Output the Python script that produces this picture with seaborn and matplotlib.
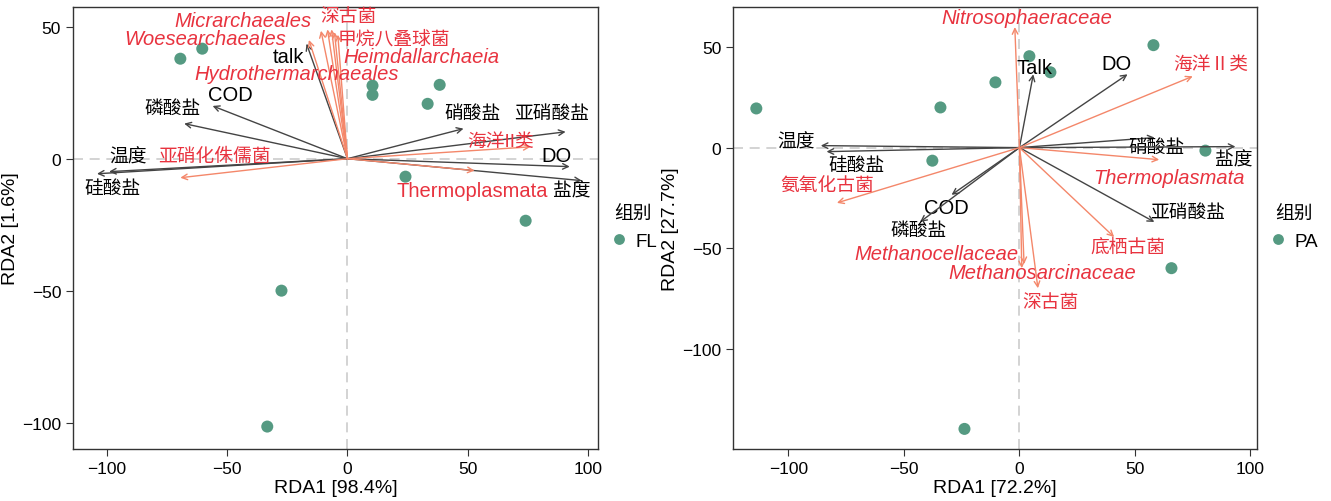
import numpy as np
import pandas as pd
import matplotlib
matplotlib.use('Agg')
import matplotlib.pyplot as plt
import seaborn as sns

sns.set_style('ticks')
plt.rcParams['font.family'] = ['Liberation Sans', 'Noto Sans CJK SC', 'DejaVu Sans']
plt.rcParams['axes.unicode_minus'] = True
plt.rcParams['text.color'] = 'black'
plt.rcParams['axes.labelcolor'] = 'black'
plt.rcParams['xtick.labelcolor'] = 'black'
plt.rcParams['ytick.labelcolor'] = 'black'

# ---- FL panel data ----
fl_x = [-69.4, -60.3, 10.4, 10.4, 38.3, 33.3, 24.1, 74.0, -27.4, -33.3]
fl_y = [37.9, 41.7, 27.7, 24.2, 28.0, 20.8, -6.8, -23.5, -50.0, -101.5]

fl_env = ['talk', 'COD', '磷酸盐', '硅酸盐', '温度', '硝酸盐', '亚硝酸盐', 'DO', '盐度']
fl_env_x = [-17.0, -56.0, -67.8, -104.0, -99.0, 48.2, 90.6, 92.3, 97.3]
fl_env_y = [43.6, 20.0, 13.3, -5.7, -4.9, 11.4, 10.2, -3.0, -8.3]

fl_sp = ['Woesearchaeales', 'Micrarchaeales', '深古菌', '甲烷八叠球菌', 'Heimdallarchaeia',
         'Hydrothermarchaeales', '亚硝化侏儒菌', '海洋II类', 'Thermoplasmata']
fl_sp_x = [-16.0, -11.0, -8.3, -6.6, -5.4, -4.0, -69.4, 76.0, 52.8]
fl_sp_y = [45.0, 48.5, 49.0, 49.0, 48.0, 47.0, -7.2, 4.5, -4.5]

# ---- PA panel data ----
pa_x = [-113.9, -34.2, -10.4, 4.3, 13.4, 58.0, 80.5, -37.7, 65.8, -23.8]
pa_y = [19.5, 20.0, 32.5, 45.5, 37.5, 51.0, -1.5, -6.5, -60.0, -140.0]

pa_env = ['Talk', 'DO', '硝酸盐', '盐度', '亚硝酸盐', '温度', '硅酸盐', 'COD', '磷酸盐']
pa_env_x = [6.0, 46.8, 58.5, 93.5, 58.4, -86.0, -83.5, -29.4, -43.0]
pa_env_y = [36.5, 36.5, 5.0, 0.5, -37.0, 1.0, -2.0, -23.5, -37.0]

pa_sp = ['Nitrosophaeraceae', '海洋Ⅱ类', 'Thermoplasmata', '氨氧化古菌', '底栖古菌',
         'Methanocellaceae', 'Methanosarcinaceae', '深古菌']
pa_sp_x = [-2.0, 75.0, 60.5, -79.0, 41.0, 1.0, 2.0, 8.0]
pa_sp_y = [60.0, 35.5, -6.0, -27.5, -44.5, -60.0, -58.0, -70.0]

# label placement (layout)
fl_env_lab = [(-24.5, 38.6), (-48.6, 24.2), (-72.8, 18.9), (-97.7, -11.4), (-91, 0.8),
              (52, 17), (84.8, 17), (87, 1.1), (93, -12.1)]
fl_sp_lab = [(-59, 45.5), (-43.2, 52.3), (0.4, 53.8), (19.1, 45.5), (30.8, 38.6),
             (-21.2, 32.2), (-55.3, 0.8), (63.6, 6.4), (52, -12.1)]
fl_sp_italic = [True, True, False, False, True, True, False, False, False]

pa_env_lab = [(6.5, 40), (42, 42), (59.3, 0), (92.6, -6), (73, -32), (-96.5, 3),
              (-70.6, -9), (-31.6, -30), (-43.7, -41)]
pa_sp_lab = [(3, 65), (82.7, 41.5), (64.5, -15), (-83, -19.5), (46.8, -49.5),
             (-36, -52.5), (10, -62), (13.4, -77)]
pa_sp_italic = [True, False, True, False, False, True, True, False]

pt_color = '#559a82'
env_color = '#444444'
sp_line = '#f4876a'
sp_text = '#e8333f'

fig = plt.figure(figsize=(13.31, 5.02), dpi=100)
ax1 = fig.add_axes([0.0548, 0.1036, 0.3944, 0.8805])
ax2 = fig.add_axes([0.5507, 0.1036, 0.3940, 0.8805])


def fsize(s):
    return 14.5 if s.isascii() else 13.5


def draw(ax, px, py, group, env, ex, ey, elab, sp, sx, sy, slab, sital,
         xlim, ylim, xlabel, ylabel):
    ax.axhline(0, color='#cccccc', ls=(0, (6, 4)), lw=1.2, zorder=0)
    ax.axvline(0, color='#cccccc', ls=(0, (6, 4)), lw=1.2, zorder=0)
    df = pd.DataFrame({'x': px, 'y': py, '组别': group})
    sns.scatterplot(data=df, x='x', y='y', hue='组别', palette=[pt_color],
                    s=75, edgecolor='none', ax=ax, zorder=3)
    for n, x, y, (lx, ly) in zip(env, ex, ey, elab):
        ax.annotate('', xy=(x, y), xytext=(0, 0),
                    arrowprops=dict(arrowstyle='->', color=env_color, lw=1.0,
                                    shrinkA=0, shrinkB=0, mutation_scale=10))
        ax.text(lx, ly, n, ha='center', va='center', fontsize=fsize(n), color='black')
    for n, x, y, (lx, ly), it in zip(sp, sx, sy, slab, sital):
        ax.annotate('', xy=(x, y), xytext=(0, 0),
                    arrowprops=dict(arrowstyle='->', color=sp_line, lw=1.0,
                                    shrinkA=0, shrinkB=0, mutation_scale=10))
        ax.text(lx, ly, n, ha='center', va='center', fontsize=fsize(n), color=sp_text,
                style='italic' if it else 'normal')
    ax.set_xlim(*xlim)
    ax.set_ylim(*ylim)
    ax.set_xticks([-100, -50, 0, 50, 100])
    ax.set_yticks([-100, -50, 0, 50])
    ax.set_xlabel(xlabel, fontsize=14, labelpad=2)
    ax.set_ylabel(ylabel, fontsize=14)
    ax.yaxis.set_label_coords(-0.103, 0.5)
    ax.tick_params(labelsize=12.5, length=5, color='#333333')
    for s in ax.spines.values():
        s.set_color('#333333')
        s.set_linewidth(1.0)
    ax.legend(title='组别', loc='center left', bbox_to_anchor=(1.0, 0.5),
              frameon=False, fontsize=13.5, title_fontsize=13.5,
              handlelength=1.0, handletextpad=0.4, borderaxespad=0.3,
              borderpad=0.3, markerscale=0.9)


draw(ax1, fl_x, fl_y, ['FL'] * len(fl_x), fl_env, fl_env_x, fl_env_y, fl_env_lab,
     fl_sp, fl_sp_x, fl_sp_y, fl_sp_lab, fl_sp_italic,
     (-114, 104), (-110, 57.5), 'RDA1 [98.4%]', 'RDA2 [1.6%]')
draw(ax2, pa_x, pa_y, ['PA'] * len(pa_x), pa_env, pa_env_x, pa_env_y, pa_env_lab,
     pa_sp, pa_sp_x, pa_sp_y, pa_sp_lab, pa_sp_italic,
     (-124, 103), (-150, 70), 'RDA1 [72.2%]', 'RDA2 [27.7%]')

fig.savefig('out.png', dpi=100)
